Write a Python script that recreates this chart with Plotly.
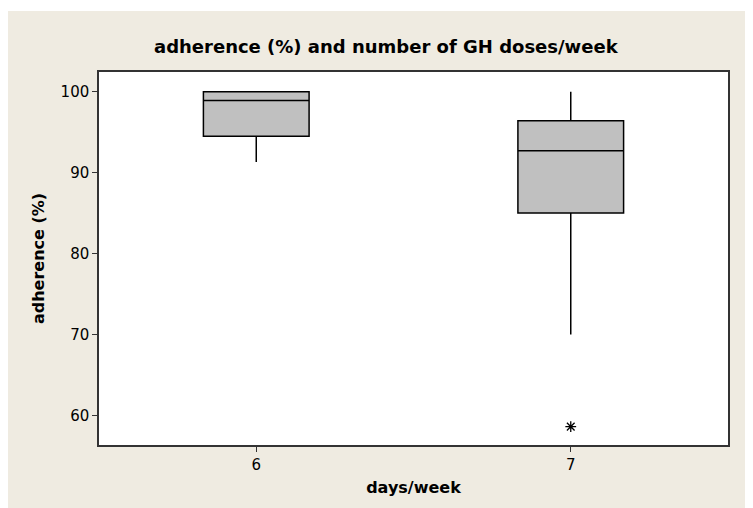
import plotly.graph_objects as go

categories = ["6", "7"]
q1 = [94.5, 85.0]
median = [98.9, 92.7]
q3 = [100.0, 96.4]
lower_fence = [91.3, 70.0]
upper_fence = [100.0, 100.0]
outlier_x = ["7"]
outlier_y = [58.6]
y_ticks = [60, 70, 80, 90, 100]

FONT = "DejaVu Sans"
BEIGE = "#EFEBE1"

fig = go.Figure()
fig.add_trace(go.Box(
    x=categories, q1=q1, median=median, q3=q3,
    lowerfence=lower_fence, upperfence=upper_fence,
    fillcolor="#C0C0C0", line=dict(color="black", width=1.5),
    width=0.336, whiskerwidth=0, boxpoints=False, showlegend=False,
    hoverinfo="skip",
))
fig.add_trace(go.Scatter(
    x=outlier_x, y=outlier_y, mode="markers",
    marker=dict(symbol="asterisk-open", size=9, color="black",
                line=dict(color="black", width=1.3)),
    showlegend=False, hoverinfo="skip",
))

# thin white strip at the very top (page background above the beige panel)
fig.add_shape(type="rect", xref="paper", yref="paper",
              x0=-0.2, x1=1.1, y0=1.1635, y1=1.2,
              fillcolor="white", line=dict(width=0), layer="above")

fig.update_layout(
    width=745, height=500,
    margin=dict(l=91, r=25, t=64, b=63),
    paper_bgcolor=BEIGE, plot_bgcolor="white",
    font=dict(family=FONT, color="black", size=15),
    title=dict(text="<b>adherence (%) and number of GH doses/week</b>",
               x=0.456, xref="paper", xanchor="center",
               y=1 - 39 / 500, yref="container", yanchor="middle",
               font=dict(family=FONT, size=18, color="black")),
    showlegend=False,
)

fig.update_xaxes(
    type="category", range=[-0.5, 1.5],
    showline=True, mirror=True, linecolor="#333333", linewidth=1.5,
    ticks="outside", ticklen=5, tickwidth=1, tickcolor="#333333",
    showgrid=False, zeroline=False,
    tickfont=dict(family=FONT, size=15, color="black"),
    title=dict(text="<b>days/week</b>", font=dict(family=FONT, size=16, color="black"), standoff=9),
)
fig.update_yaxes(
    range=[56.33, 102.43], tickvals=y_ticks,
    showline=True, mirror=True, linecolor="#333333", linewidth=1.5,
    ticks="outside", ticklen=5, tickwidth=1, tickcolor="#333333",
    showgrid=False, zeroline=False,
    tickfont=dict(family=FONT, size=15, color="black"),
    title=dict(text="<b>adherence (%)</b>", font=dict(family=FONT, size=16, color="black"), standoff=12),
)

fig.write_html("out.html")
